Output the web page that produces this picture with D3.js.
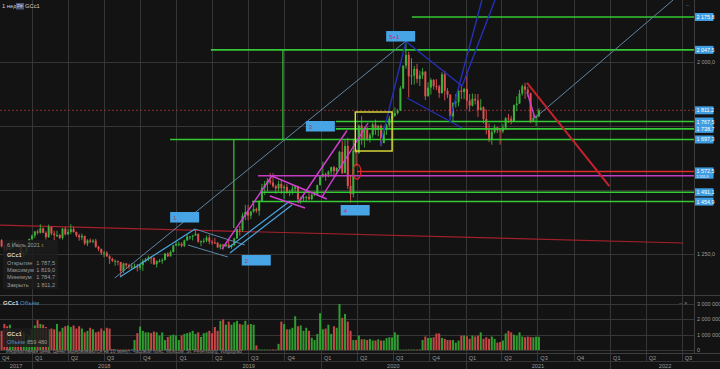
<!DOCTYPE html>
<html>
<head>
<meta charset="utf-8">
<script src="https://cdn.jsdelivr.net/npm/d3@7"></script>
<style>
  body { margin: 0; background: #131313; }
  svg { display: block; font-family: "Liberation Sans", Arial, sans-serif; }
</style>
</head>
<body>
<script>
'use strict';

// weekly GCc1 candles, first week starts on this Monday
const weekStart = "2017-10-09";
const firstOpen = 1275;

const closes = [
  1304,1280,1272,1269,1274,1296,1288,1280,1248,1257,1278,1309,
  1322,1338,1333,1350,1333,1316,1356,1330,1323,1324,1313,1349,1327,1336,1347,1336,1323,1315,1321,1291,
  1303,1298,1302,1278,1270,1254,1255,1241,1231,1223,1223,1219,1184,1213,1206,1200,1201,1201,1196,1207,
  1222,1229,1236,1235,1210,1223,1223,1226,1252,1241,1258,1283,
  1289,1290,1282,1303,1318,1318,1322,1329,1298,1300,1302,1314,1298,1295,1294,1276,1287,1281,1287,1277,
  1285,1311,1346,1344,1400,1414,1400,1416,1426,1419,1457,1509,1524,1537,1529,1515,1506,1524,1507,1512,
  1493,1494,1505,1514,1464,1468,1471,1473,1465,1481,1484,1519,
  1553,1562,1560,1572,1589,1574,1586,1649,1566,1672,1516,1484,1654,1645,1752,1698,1736,1700,1714,1756,
  1735,1751,1683,1737,1753,1780,1790,1801,1810,1897,1986,2028,1944,1947,1973,1934,1948,1962,1866,1900,
  1930,1906,1905,1879,1952,1887,1872,1788,1840,1843,1888,1883,
  1895,1849,1830,1856,1850,1813,1823,1777,1734,1698,1727,1745,1733,1729,1744,1780,1778,1768,1831,1838,
  1877,1905,1892,1879,1769,1781,1787.5,1811.2
];

const highs = [
  1306,1308,1287,1284,1290,1299,1298,1300,1281,1264,1280,1310,
  1326,1340,1345,1366,1354,1339,1365,1355,1341,1341,1328,1352,1356,1347,1366,1357,1338,1329,1330,1320,
  1308,1311,1308,1310,1282,1271,1262,1261,1246,1236,1229,1224,1219,1216,1215,1212,1214,1213,1211,1211,
  1230,1235,1244,1241,1238,1225,1230,1233,1254,1256,1264,1286,
  1299,1298,1296,1306,1327,1321,1325,1347,1330,1303,1311,1322,1326,1304,1313,1297,1290,1288,1293,1304,
  1287,1314,1349,1360,1411,1442,1442,1419,1453,1431,1460,1524,1535,1546,1566,1566,1521,1536,1542,1520,
  1523,1501,1518,1520,1517,1474,1479,1477,1490,1486,1486,1521,
  1555,1611,1568,1576,1591,1594,1589,1653,1691,1693,1704,1560,1700,1660,1756,1788,1747,1747,1723,1764,
  1775,1753,1756,1744,1758,1789,1807,1823,1817,1906,1987,2089,2040,2015,1985,1993,1966,1976,1965,1921,
  1937,1933,1933,1911,1960,1966,1898,1875,1843,1875,1893,1907,
  1899,1962,1875,1877,1875,1875,1855,1827,1815,1760,1739,1756,1745,1741,1758,1785,1797,1790,1834,1866,
  1891,1912,1919,1903,1880,1796,1795,1819.0
];

const lows = [
  1272,1276,1263,1264,1268,1271,1282,1273,1243,1236,1253,1276,
  1303,1312,1326,1330,1331,1307,1313,1323,1303,1316,1308,1306,1322,1325,1327,1333,1316,1302,1304,1285,
  1281,1293,1292,1274,1261,1246,1238,1238,1211,1218,1204,1206,1161,1176,1194,1191,1190,1193,1182,1187,
  1184,1217,1222,1212,1207,1197,1217,1212,1226,1238,1240,1256,
  1281,1280,1276,1277,1302,1306,1303,1323,1294,1281,1292,1296,1288,1286,1289,1273,1268,1267,1277,1274,
  1270,1281,1309,1322,1337,1382,1382,1386,1411,1411,1400,1458,1480,1494,1521,1509,1485,1494,1485,1465,
  1485,1476,1482,1489,1456,1446,1457,1455,1460,1460,1476,1481,
  1518,1549,1536,1550,1558,1551,1562,1584,1562,1576,1504,1451,1471,1592,1641,1677,1666,1692,1686,1702,
  1716,1710,1671,1690,1715,1744,1765,1786,1795,1810,1895,1974,1862,1911,1912,1917,1906,1934,1851,1871,
  1873,1893,1890,1860,1876,1850,1859,1775,1765,1822,1827,1855,
  1855,1816,1806,1826,1834,1785,1817,1760,1717,1687,1677,1720,1722,1677,1722,1734,1762,1756,1768,1808,
  1836,1869,1856,1865,1761,1767,1750,1784.7
];

// weekly volume, thousands of contracts
const volumesK = [
  1500,1250,1700,1550,1650,1200,900,1000,1300,1150,600,900,
  1350,1600,1950,1700,1650,1500,1350,1400,1350,1700,1200,1450,1550,1600,1500,1600,1400,1550,1400,1150,
  1250,1450,1350,1150,1200,1400,1250,1450,1400,
  40,30,30,25,30,35,30,40,650,1100,
  1530,1250,1150,1150,1100,1200,1150,950,1150,650,850,950,1000,950,650,950,1050,1100,1150,1250,
  1050,1150,850,1100,1150,1250,1100,1500,1250,1900,2000,1650,1850,1650,1800,1900,1700,1650,1900,1650,
  1700,1650,
  300,40,30,30,35,30,40,30,400,
  1850,1700,1350,1350,1450,2200,1550,1600,1250,1450,1250,800,650,1050,2400,1350,1400,1650,1050,1550,
  1450,3000,2100,2350,1850,1250,650,650,950,700,700,650,720,620,620,700,620,620,780,830,
  830,1150,1000,
  30,25,30,40,30,35,30,40,650,
  880,790,800,830,1080,1080,790,730,650,650,650,480,620,940,940,900,730,940,880,940,
  1150,730,830,730,880,730,480,520,620,1080,1250,1150,1000,940,1150,880,830,880,850,830,
  870,859.48
];

// price axis
const gridPrices = [1250, 1500, 1750, 2000];
const shownPrices = [1250, 2000];
const volTicks = [0, 1000000, 2000000, 3000000];
const lastPrice = 1811.2;
const axisLevels = [2175.8, 2047.5, 1811.2, 1767.5, 1738.7, 1697.3, 1572.5, 1491.1, 1454.9];

// drawn levels: [price, start date]
const greenLevels = [
  [2175.8, "2020-08-18"], [2047.5, "2019-03-29"], [1767.5, "2020-02-08"], [1738.7, "2020-02-08"],
  [1697.3, "2018-12-16"], [1491.1, "2019-08-05"], [1454.9, "2019-07-11"]
];
const greenDrops = [["2019-09-27", 2047.5, 1697.3], ["2019-05-26", 1697.3, 1351.6]];
const redLevel = [1572.5, "2020-04-01"];
const magentaLevel = [1555.9, "2019-07-26"];
const ringPoint = ["2020-04-01", 1572];

// drawn segments: [[date, price], [date, price]]
const trendLine = [["2017-10-12", 1363], ["2022-07-05", 1293]];
const magentaSegs = [
  [["2019-04-26", 1269.5], ["2019-08-30", 1554.7]],
  [["2019-08-30", 1554.7], ["2020-01-16", 1464.8]],
  [["2019-08-25", 1476.6], ["2019-11-22", 1429.7]],
  [["2019-11-04", 1449.2], ["2020-03-07", 1732.4]],
  [["2020-01-04", 1472.7], ["2020-04-29", 1761.7]],
  [["2021-06-05", 1882.8], ["2021-06-25", 1781.3]]
];
const redSegs = [[["2021-06-05", 1918], ["2021-12-30", 1515.6]]];
const steelSegs = [
  [["2018-07-29", 1156.3], ["2020-08-03", 2082]],
  [["2021-06-25", 1781.3], ["2022-06-09", 2242]],
  [["2019-02-17", 1347.7], ["2019-06-23", 1285.2]],
  [["2019-01-30", 1285.2], ["2019-05-11", 1238.3]]
];
const lightBlueSegs = [
  [["2018-08-11", 1160], ["2019-02-17", 1347.7]],
  [["2019-05-11", 1273], ["2019-10-15", 1457]],
  [["2019-05-16", 1254], ["2019-10-20", 1441.4]]
];
const navySegs = [
  [["2020-05-30", 1675.8], ["2020-08-03", 2080]],
  [["2020-08-03", 2080], ["2020-12-23", 1906]],
  [["2020-12-23", 1906], ["2021-03-16", 2242]],
  [["2020-08-06", 1859.4], ["2020-12-23", 1742.2]],
  [["2020-11-22", 1773.4], ["2021-02-11", 2242]]
];
const yellowBox = [["2020-03-28", 1804.7], ["2020-06-29", 1652.3]];
const waveLabels = [
  ["1", "2018-12-16", 1414], ["2", "2019-06-15", 1246], ["3", "2019-11-24", 1769.5],
  ["4", "2020-02-20", 1441.4], ["5+1", "2020-06-14", 2121]
];

const legendRows = [["Открытие", 1787.5], ["Максимум", 1819.0], ["Минимум", 1784.7], ["Закрыть", 1811.2]];

// ------------------------------------------------------------------
const width = 720, height = 369;
const plotRight = 694;
const upCol = "#3cb03c", downCol = "#e05050";
const upVol = "#2f9d2f", downVol = "#c94646";
const gridCol = "#363636", textCol = "#9c9c9c";

let pd = d3.utcParse("%Y-%m-%d");
let loc = d3.formatLocale({decimal: ",", thousands: " ", grouping: [3], currency: ["", ""]});
let fmtPrice = loc.format(",.1f");
let fmtVol = loc.format(",.0f");

let t0 = pd(weekStart);
let candles = closes.map(function(c, i) {
    let o = i === 0 ? firstOpen : closes[i - 1];
    return {
        date: d3.utcWeek.offset(t0, i),
        o: o, c: c,
        h: Math.max(highs[i], o, c),
        l: Math.min(lows[i], o, c),
        v: volumesK[i] * 1000
    };
});

let x = d3.scaleUtc()
    .domain([pd("2017-10-12"), pd("2022-08-01")])
    .range([0, plotRight]);
let y = d3.scaleLinear().domain([1250, 2000]).range([254, 62]);
let yv = d3.scaleLinear().domain([0, 3000000]).range([350, 304]);

let svg = d3.select("body").append("svg")
    .attr("width", width)
    .attr("height", height);

svg.append("rect").attr("width", width).attr("height", height).attr("fill", "#131313");

let defs = svg.append("defs");
defs.append("clipPath").attr("id", "clipPrice")
    .append("rect").attr("x", 0).attr("y", 0).attr("width", plotRight).attr("height", 295);
defs.append("clipPath").attr("id", "clipVol")
    .append("rect").attr("x", 0).attr("y", 296).attr("width", plotRight).attr("height", 56);

// grid -------------------------------------------------------------
let grid = svg.append("g").attr("stroke", gridCol).attr("shape-rendering", "crispEdges");

let quarters = d3.utcMonth.every(3).range(pd("2017-10-01"), x.domain()[1]);
grid.selectAll("line.q").data(quarters).join("line")
    .attr("x1", d => Math.round(x(d)) + 0.5).attr("x2", d => Math.round(x(d)) + 0.5)
    .attr("y1", 0).attr("y2", d => d.getUTCMonth() === 0 ? height : 361);

grid.selectAll("line.p").data(gridPrices).join("line")
    .attr("x1", 0).attr("x2", plotRight)
    .attr("y1", d => Math.round(y(d)) + 0.5).attr("y2", d => Math.round(y(d)) + 0.5);

grid.selectAll("line.v").data(volTicks).join("line")
    .attr("x1", 0).attr("x2", plotRight)
    .attr("y1", d => Math.round(yv(d)) + 0.5).attr("y2", d => Math.round(yv(d)) + 0.5);

grid.append("line").attr("x1", 0).attr("x2", width).attr("y1", 295.5).attr("y2", 295.5).attr("stroke", "#3e3e3e");
grid.append("line").attr("x1", 0).attr("x2", width).attr("y1", 353.5).attr("y2", 353.5).attr("stroke", "#3e3e3e");
grid.append("line").attr("x1", 0).attr("x2", width).attr("y1", 361.5).attr("y2", 361.5);
grid.append("line").attr("x1", plotRight + 0.5).attr("x2", plotRight + 0.5).attr("y1", 0).attr("y2", 353).attr("stroke", "#3e3e3e");

// price panel ------------------------------------------------------
let pg = svg.append("g").attr("clip-path", "url(#clipPrice)");

pg.append("line")
    .attr("x1", 0).attr("x2", plotRight)
    .attr("y1", y(lastPrice)).attr("y2", y(lastPrice))
    .attr("stroke", "#8a3030").attr("stroke-dasharray", "2,2").attr("stroke-width", 1);

pg.append("line")
    .attr("x1", x(pd(trendLine[0][0]))).attr("y1", y(trendLine[0][1]))
    .attr("x2", x(pd(trendLine[1][0]))).attr("y2", y(trendLine[1][1]))
    .attr("stroke", "#a3202a").attr("stroke-width", 1.2);

// candles
let cg = pg.append("g");
cg.selectAll("line").data(candles).join("line")
    .attr("x1", d => x(d.date)).attr("x2", d => x(d.date))
    .attr("y1", d => y(d.h)).attr("y2", d => y(d.l))
    .attr("stroke", d => d.c >= d.o ? upCol : downCol)
    .attr("stroke-width", 0.9);
cg.selectAll("rect").data(candles).join("rect")
    .attr("x", d => x(d.date) - 1)
    .attr("width", 2)
    .attr("y", d => y(Math.max(d.o, d.c)))
    .attr("height", d => Math.max(1, Math.abs(y(d.o) - y(d.c))))
    .attr("fill", d => d.c >= d.o ? upCol : downCol);

// annotations
function seg(g, data, color, w) {
    g.selectAll(null).data(data).join("line")
        .attr("x1", d => x(pd(d[0][0]))).attr("y1", d => y(d[0][1]))
        .attr("x2", d => x(pd(d[1][0]))).attr("y2", d => y(d[1][1]))
        .attr("stroke", color).attr("stroke-width", w);
}

let ag = pg.append("g").attr("fill", "none");

ag.selectAll("line.gl").data(greenLevels).join("line")
    .attr("x1", d => x(pd(d[1]))).attr("x2", plotRight)
    .attr("y1", d => y(d[0])).attr("y2", d => y(d[0]))
    .attr("stroke", "#35c935").attr("stroke-width", 1.6);
ag.selectAll("line.gd").data(greenDrops).join("line")
    .attr("x1", d => x(pd(d[0]))).attr("x2", d => x(pd(d[0])))
    .attr("y1", d => y(d[1])).attr("y2", d => y(d[2]))
    .attr("stroke", "#35c935").attr("stroke-width", 1.2);

ag.append("line")
    .attr("x1", x(pd(magentaLevel[1]))).attr("x2", plotRight)
    .attr("y1", y(magentaLevel[0])).attr("y2", y(magentaLevel[0]))
    .attr("stroke", "#c43dc4").attr("stroke-width", 1.6);
ag.append("line")
    .attr("x1", x(pd(redLevel[1]))).attr("x2", plotRight)
    .attr("y1", y(redLevel[0])).attr("y2", y(redLevel[0]))
    .attr("stroke", "#e02a2a").attr("stroke-width", 1.6);
ag.append("ellipse")
    .attr("cx", x(pd(ringPoint[0]))).attr("cy", y(ringPoint[1]))
    .attr("rx", 4).attr("ry", 7.5)
    .attr("stroke", "#e02a2a").attr("stroke-width", 1.2);

seg(ag, steelSegs, "#5f86a8", 1);
seg(ag, lightBlueSegs, "#4aa6e0", 1.2);
seg(ag, magentaSegs, "#cf3fd0", 1.4);
seg(ag, navySegs, "#2530b8", 1.4);
seg(ag, redSegs, "#c4222c", 2);

ag.append("rect")
    .attr("x", x(pd(yellowBox[0][0]))).attr("y", y(yellowBox[0][1]))
    .attr("width", x(pd(yellowBox[1][0])) - x(pd(yellowBox[0][0])))
    .attr("height", y(yellowBox[1][1]) - y(yellowBox[0][1]))
    .attr("stroke", "#e4e23a").attr("stroke-width", 1.4);

let wl = pg.append("g").selectAll("g").data(waveLabels).join("g")
    .attr("transform", d => "translate(" + x(pd(d[1])) + "," + y(d[2]) + ")");
wl.append("rect").attr("width", 29).attr("height", 10.5).attr("fill", "#47a5e6");
wl.append("text").attr("x", 3).attr("y", 7.5)
    .attr("font-size", 6).attr("fill", "#b8325a")
    .text(d => d[0]);

// OHLC legend box
let lg = svg.append("g").attr("font-size", 5.6).attr("fill", textCol);
lg.append("rect").attr("x", 3).attr("y", 240).attr("width", 55).attr("height", 49)
    .attr("fill", "#1c1c1c").attr("fill-opacity", 0.85);
lg.append("text").attr("x", 7).attr("y", 247).text("6 Июль 2021 г.");
lg.append("text").attr("x", 7).attr("y", 257).attr("fill", "#d8d8d8").attr("font-weight", "bold").text("GCc1");
lg.selectAll("text.row").data(legendRows).join("text")
    .attr("x", 7).attr("y", (d, i) => 265 + i * 7.2).text(d => d[0]);
lg.selectAll("text.val").data(legendRows).join("text")
    .attr("x", 55).attr("y", (d, i) => 265 + i * 7.2).attr("text-anchor", "end")
    .text(d => fmtPrice(d[1]));

// volume panel -----------------------------------------------------
let vg = svg.append("g").attr("clip-path", "url(#clipVol)");
vg.selectAll("rect").data(candles).join("rect")
    .attr("x", d => x(d.date) - 1)
    .attr("width", 2)
    .attr("y", d => yv(d.v))
    .attr("height", d => Math.max(0.6, yv(0) - yv(d.v)))
    .attr("fill", d => d.c >= d.o ? upVol : downVol);

let vl = svg.append("g").attr("font-size", 6);
vl.append("text").attr("x", 3).attr("y", 305).attr("fill", "#dcdcdc").attr("font-weight", "bold").text("GCc1");
vl.append("text").attr("x", 20).attr("y", 305).attr("fill", "#4a8fd6").text("Объём");
vl.append("rect").attr("x", 3).attr("y", 328).attr("width", 46).attr("height", 19)
    .attr("fill", "#1c1c1c").attr("fill-opacity", 0.85);
vl.append("text").attr("x", 7).attr("y", 336).attr("font-size", 5.6).attr("fill", "#d8d8d8").attr("font-weight", "bold").text("GCc1");
vl.append("text").attr("x", 7).attr("y", 344).attr("font-size", 5.6).attr("fill", "#4a8fd6").text("Объём");
vl.append("text").attr("x", 27).attr("y", 344).attr("font-size", 5.6).attr("fill", textCol)
    .text(fmtVol(candles[candles.length - 1].v));
vl.append("text").attr("x", 6).attr("y", 352.5).attr("font-size", 5).attr("fill", "#8a8a8a")
    .attr("textLength", 236).attr("lengthAdjust", "spacingAndGlyphs")
    .text("Индикативная цена. Цены задерживаются на 10 минут.  Часовой пояс: Moscow, St. Petersburg, Volgograd");
vl.append("text").attr("x", 679).attr("y", 305).attr("fill", "#777").text("–  ×");

// right axis -------------------------------------------------------
let ra = svg.append("g").attr("font-size", 5.4);
ra.selectAll("text.p").data(shownPrices).join("text")
    .attr("x", 697).attr("y", d => y(d) + 2).attr("fill", textCol)
    .text(d => fmtPrice(d));
ra.selectAll("text.v").data(volTicks).join("text")
    .attr("x", 697).attr("y", d => yv(d) + 2).attr("fill", textCol)
    .text(d => fmtVol(d));

let boxes = ra.selectAll("g.lvl").data(axisLevels).join("g")
    .attr("transform", d => "translate(695," + (y(d) - 4) + ")");
boxes.append("rect").attr("width", 18.5).attr("height", 8).attr("fill", "#3f9de2");
boxes.append("text").attr("x", 1.5).attr("y", 6).attr("fill", "#ffffff").text(d => fmtPrice(d));

let mBox = ra.append("g").attr("transform", "translate(695," + (y(magentaLevel[0]) - 2) + ")");
mBox.append("rect").attr("width", 18.5).attr("height", 5).attr("fill", "#3f9de2");
mBox.append("text").attr("x", 1.5).attr("y", 4).attr("font-size", 3.6).attr("fill", "#ffffff")
    .text(fmtPrice(magentaLevel[0]));

ra.append("text").attr("x", 686).attr("y", 7).attr("fill", "#777").text("–");

// top-left caption
let tl = svg.append("g").attr("font-size", 5.8).attr("fill", "#d0d0d0");
tl.append("text").attr("x", 2).attr("y", 8).text("1 нед");
tl.append("rect").attr("x", 16).attr("y", 3).attr("width", 8).attr("height", 6.5).attr("fill", "#4c5a7a");
tl.append("text").attr("x", 17).attr("y", 8).attr("fill", "#c8d0e8").attr("font-size", 4.5).text("Р#");
tl.append("text").attr("x", 25).attr("y", 8).text("GCc1");

// time axis --------------------------------------------------------
let ta = svg.append("g").attr("font-size", 5.6).attr("fill", textCol);
ta.selectAll("text.q").data(quarters).join("text")
    .attr("x", d => Math.max(2, x(d) + 3)).attr("y", 359.5)
    .text(d => "Q" + (Math.floor(d.getUTCMonth() / 3) + 1));

let years = d3.range(2017, 2023);
ta.selectAll("text.y").data(years).join("text")
    .attr("x", function(d) {
        let a = Math.max(0, x(pd(d + "-01-01")));
        let b = Math.min(width, x(pd((d + 1) + "-01-01")));
        return (a + b) / 2;
    })
    .attr("y", 367.5)
    .attr("text-anchor", "middle")
    .text(d => d);
</script>
</body>
</html>
